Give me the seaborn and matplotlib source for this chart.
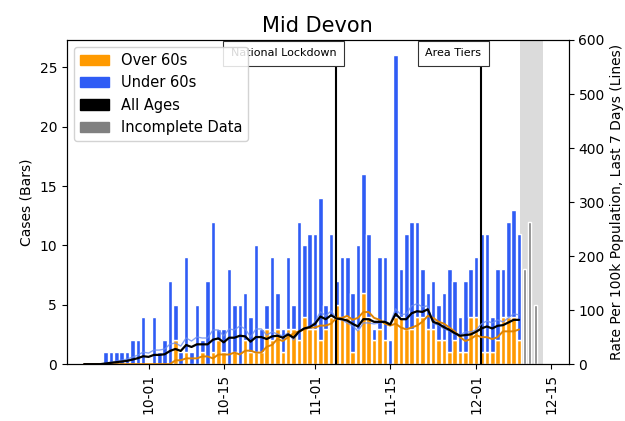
import datetime as dt
import numpy as np
import pandas as pd
import matplotlib
matplotlib.use('Agg')
import matplotlib.pyplot as plt
import matplotlib.dates as mdates
from matplotlib.patches import Patch
import seaborn as sns

# daily cases, Mid Devon, from 2020-09-19
first_day = dt.date(2020, 9, 19)
over_60s = [0, 0, 0, 0, 0, 0, 0, 0, 0, 0, 0, 0,
            0, 0, 0, 0, 0, 2, 0, 1, 0, 0, 1, 0, 1, 2, 1, 0, 1, 0, 2, 1,
            1, 1, 3, 2, 3, 1, 3, 3, 2, 4, 3, 3, 2, 3, 4, 5, 4, 4, 1, 3,
            6, 4, 2, 3, 2, 0, 4, 4, 3, 3, 4, 4, 3, 3, 2, 2, 1, 2, 1, 1,
            4, 4, 1, 1, 1, 2, 4, 4, 4, 2]
under_60s = [0, 0, 0, 0, 1, 1, 1, 1, 1, 2, 2, 4,
             0, 4, 1, 2, 7, 3, 1, 8, 1, 5, 1, 7, 11, 1, 2, 8, 4, 5, 4, 3,
             9, 2, 2, 7, 3, 2, 6, 2, 10, 6, 8, 8, 12, 2, 7, 2, 5, 5, 5, 7,
             10, 7, 1, 6, 7, 2, 22, 4, 8, 9, 8, 4, 3, 4, 3, 4, 7, 5, 3, 6,
             4, 5, 10, 10, 3, 6, 4, 8, 9, 9]
incomplete_cases = [8, 12, 5]

population_all = 81695
population_over_60 = 28000
population_under_60 = population_all - population_over_60

events = {'National Lockdown': dt.date(2020, 11, 5), 'Area Tiers': dt.date(2020, 12, 2)}

orange = '#FF9A00'
blue = '#2F5CF5'

dates = pd.date_range(first_day, periods=len(over_60s), freq='D')
df = pd.DataFrame({'date': dates, 'over': over_60s, 'under': under_60s})
df['all'] = df['over'] + df['under']
df['rate_all'] = df['all'].rolling(7, min_periods=1).sum() * 1e5 / population_all
df['rate_over'] = df['over'].rolling(7, min_periods=1).sum() * 1e5 / population_over_60
df['rate_under'] = df['under'].rolling(7, min_periods=1).sum() * 1e5 / population_under_60
inc_dates = pd.date_range(dates[-1] + pd.Timedelta(days=1), periods=len(incomplete_cases), freq='D')

sns.set_style('ticks')
plt.rcParams['font.family'] = ['DejaVu Sans']
plt.rcParams['text.color'] = 'black'
plt.rcParams['axes.labelcolor'] = 'black'
plt.rcParams['xtick.color'] = 'black'
plt.rcParams['ytick.color'] = 'black'
plt.rcParams['axes.edgecolor'] = 'black'

fig, ax = plt.subplots(figsize=(6.25, 4.21), dpi=100)
fig.subplots_adjust(left=0.107, right=0.91, bottom=0.135, top=0.905)

ax.axvspan(inc_dates[0] - pd.Timedelta(hours=19), inc_dates[-1] + pd.Timedelta(hours=34),
           color='lightgrey', alpha=0.8, lw=0, zorder=0)
ax.bar(df['date'], df['over'], width=0.85, color=orange, zorder=2)
ax.bar(df['date'], df['under'], bottom=df['over'], width=0.85, color=blue, zorder=2)
ax.bar(inc_dates, incomplete_cases, width=0.6, color='grey', zorder=2)

for label, day in events.items():
    ax.axvline(day, color='black', lw=1.5, zorder=3)
    ax.text(day, 26.6, label, ha='right', va='top', fontsize=8, zorder=3,
            bbox=dict(boxstyle='square,pad=0.7', facecolor='white', edgecolor='#333333', lw=0.8))

ax.set_ylim(0, 27.3)
ax.set_yticks([0, 5, 10, 15, 20, 25])
ax.set_ylabel('Cases (Bars)')
ax.set_xlim(dt.datetime(2020, 9, 15, 19), dt.datetime(2020, 12, 18, 6))
ax.xaxis.set_major_locator(mdates.DayLocator(bymonthday=[1, 15]))
ax.xaxis.set_major_formatter(mdates.DateFormatter('%m-%d'))
ax.tick_params(axis='x', rotation=90)
ax.set_title('Mid Devon', fontsize=15)

ax2 = ax.twinx()
sns.lineplot(data=df, x='date', y='rate_under', ax=ax2, color='#6A8CF0', lw=1.0, alpha=0.8)
sns.lineplot(data=df, x='date', y='rate_over', ax=ax2, color='#E08400', lw=1.4)
sns.lineplot(data=df, x='date', y='rate_all', ax=ax2, color='black', lw=1.6)
ax2.set_ylim(0, 600)
ax2.set_ylabel('Rate Per 100k Population, Last 7 Days (Lines)')
ax2.set_xlabel('')

handles = [Patch(color=orange, label='Over 60s'), Patch(color=blue, label='Under 60s'),
           Patch(color='black', label='All Ages'), Patch(color='grey', label='Incomplete Data')]
ax2.legend(handles=handles, loc='upper left', fontsize=10.5, framealpha=0.85)

fig.savefig('out.png', dpi=100)
